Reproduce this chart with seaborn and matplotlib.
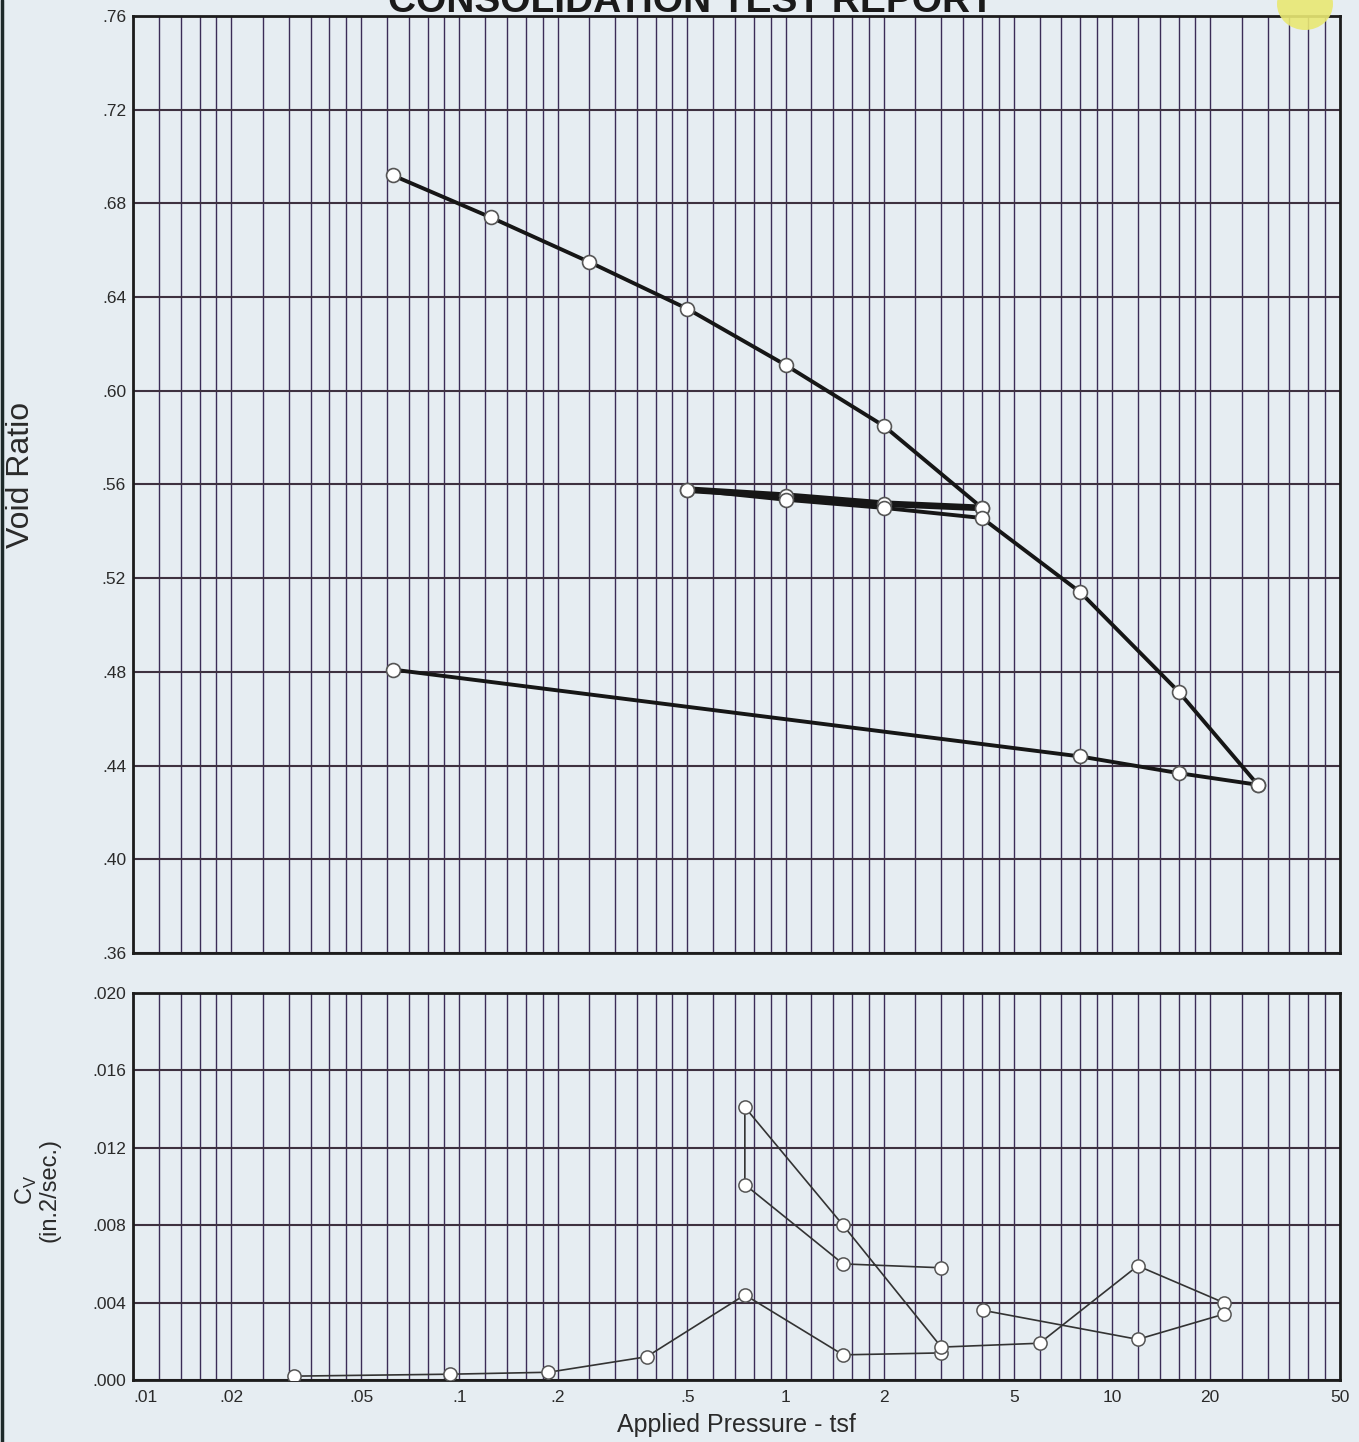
import numpy as np
import pandas as pd
import matplotlib
matplotlib.use("Agg")
import matplotlib.pyplot as plt
import seaborn as sns
from matplotlib.ticker import FixedLocator, FixedFormatter, NullFormatter
from matplotlib.patches import Ellipse
from matplotlib.lines import Line2D

# ---------------- data ----------------
# Void ratio vs applied pressure (tsf)
p_load = [0.0625, 0.125, 0.25, 0.5, 1, 2, 4]
e_load = [0.692, 0.674, 0.655, 0.635, 0.611, 0.585, 0.550]
p_unload1 = [4, 2, 1, 0.5]
e_unload1 = [0.550, 0.5518, 0.5552, 0.5578]
p_reload = [0.5, 1, 2, 4, 8, 16, 28]
e_reload = [0.5578, 0.5535, 0.5500, 0.5457, 0.514, 0.4716, 0.4318]
p_unload2 = [28, 16, 8, 0.0625]
e_unload2 = [0.4318, 0.4368, 0.4439, 0.481]

# Coefficient of consolidation Cv (in.^2/sec) at average pressure
cv_p1 = [0.03125, 0.09375, 0.1875, 0.375, 0.75, 1.5, 3]
cv_v1 = [0.0002, 0.0003, 0.0004, 0.0012, 0.0044, 0.0013, 0.0014]
cv_p2 = [3, 1.5, 0.75, 0.75, 1.5, 3, 6, 12, 22]
cv_v2 = [0.0058, 0.0060, 0.0101, 0.0141, 0.0080, 0.0017, 0.0019, 0.0059, 0.0040]
cv_p3 = [22, 12, 4.03]
cv_v3 = [0.0034, 0.0021, 0.0036]

x_tick_vals = [0.01, 0.02, 0.05, 0.1, 0.2, 0.5, 1, 2, 5, 10, 20, 50]
x_tick_labels = [".01", ".02", ".05", ".1", ".2", ".5", "1", "2", "5", "10", "20", "50"]
e_ticks = [0.36, 0.40, 0.44, 0.48, 0.52, 0.56, 0.60, 0.64, 0.68, 0.72, 0.76]
e_tick_labels = [".36", ".40", ".44", ".48", ".52", ".56", ".60", ".64", ".68", ".72", ".76"]
cv_ticks = [0.000, 0.004, 0.008, 0.012, 0.016, 0.020]
cv_tick_labels = [".000", ".004", ".008", ".012", ".016", ".020"]

# ---------------- style ----------------
sns.set_style("white")
plt.rcParams["font.family"] = ["Liberation Sans", "DejaVu Sans"]

BG = "#e6edf2"
VGRID = "#3b2c57"
HGRID = "#3e3140"
LINE = "#161616"
MEC = "#555555"
TXT = "#2a2a2a"

W, H = 1359, 1442
fig = plt.figure(figsize=(W / 100, H / 100), dpi=100)
fig.patch.set_facecolor(BG)

ax1 = fig.add_axes([133 / W, 1 - 953 / H, (1340 - 133) / W, (953 - 16) / H])
ax2 = fig.add_axes([133 / W, 1 - 1380 / H, (1340 - 133) / W, (1380 - 993) / H])

mult = [1, 1.2, 1.4, 1.6, 1.8, 2, 2.5, 3, 3.5, 4, 4.5, 5, 6, 7, 8, 9]
grid_x = [d * m for d in [0.01, 0.1, 1, 10] for m in mult if d * m < 50]

for ax in (ax1, ax2):
    ax.set_facecolor(BG)
    ax.set_xscale("log")
    ax.set_xlim(0.01, 50)
    ax.xaxis.set_major_locator(FixedLocator(x_tick_vals))
    ax.xaxis.set_minor_locator(FixedLocator(grid_x))
    ax.xaxis.set_minor_formatter(NullFormatter())
    ax.set_axisbelow(True)
    ax.grid(True, which="both", axis="x", color=VGRID, lw=1.0)
    ax.grid(True, which="major", axis="y", color=HGRID, lw=1.5)
    ax.tick_params(which="both", length=0, labelsize=12.5, colors=TXT)
    for s in ax.spines.values():
        s.set_color("#1c1c1c")
        s.set_linewidth(2.0)

# ---------------- top: void ratio ----------------
line_kw = dict(sort=False, estimator=None, color=LINE, linewidth=2.8,
               marker="o", markersize=10, markerfacecolor="white",
               markeredgecolor=MEC, markeredgewidth=1.2, zorder=3)
for px, ey, lw in [(p_load, e_load, 2.8), (p_unload1, e_unload1, 4.8),
                   (p_reload, e_reload, 2.8), (p_unload2, e_unload2, 2.8)]:
    kw = dict(line_kw)
    kw["linewidth"] = lw
    sns.lineplot(x=px, y=ey, ax=ax1, **kw)

ax1.set_ylim(0.36, 0.76)
ax1.yaxis.set_major_locator(FixedLocator(e_ticks))
ax1.yaxis.set_major_formatter(FixedFormatter(e_tick_labels))
ax1.xaxis.set_major_formatter(NullFormatter())
ax1.tick_params(axis="y", pad=5)
ax1.set_ylabel("Void Ratio", fontsize=23, color=TXT)
ax1.yaxis.set_label_coords(-0.080, 0.51)

# ---------------- bottom: Cv ----------------
cv_kw = dict(sort=False, estimator=None, color="#333333", linewidth=1.2,
             marker="o", markersize=9.5, markerfacecolor="white",
             markeredgecolor=MEC, markeredgewidth=1.1, zorder=3)
for px, cy in [(cv_p1, cv_v1), (cv_p2, cv_v2), (cv_p3, cv_v3)]:
    sns.lineplot(x=px, y=cy, ax=ax2, **cv_kw)

ax2.set_ylim(0.0, 0.020)
ax2.yaxis.set_major_locator(FixedLocator(cv_ticks))
ax2.yaxis.set_major_formatter(FixedFormatter(cv_tick_labels))
ax2.xaxis.set_major_formatter(FixedFormatter(x_tick_labels))
ax2.tick_params(axis="y", pad=5)
ax2.tick_params(axis="x", pad=7)
lbls = ax2.get_xticklabels()
if lbls:
    lbls[0].set_horizontalalignment("left")
ax2.set_ylabel("C$_\\mathregular{V}$\n(in.2/sec.)", fontsize=17, color=TXT,
               linespacing=1.0)
ax2.yaxis.set_label_coords(-0.060, 0.49)
ax2.set_xlabel("Applied Pressure - tsf", fontsize=18, color=TXT, labelpad=6)

# ---------------- decorations ----------------
fig.text(691 / W, 1 - 12 / H, "CONSOLIDATION TEST REPORT", ha="center",
         va="baseline", fontsize=28, fontweight="bold", color="#1a1a1a")
fig.add_artist(Ellipse((1305 / W, 1 - 4 / H), 56 / W, 52 / H,
                       transform=fig.transFigure, color="#e9e873", alpha=0.9,
                       lw=0))
fig.add_artist(Line2D([1.5 / W, 1.5 / W], [0, 1], transform=fig.transFigure,
                      color="#1e2a2a", lw=2.5))

fig.savefig("out.png", dpi=100, facecolor=BG)
